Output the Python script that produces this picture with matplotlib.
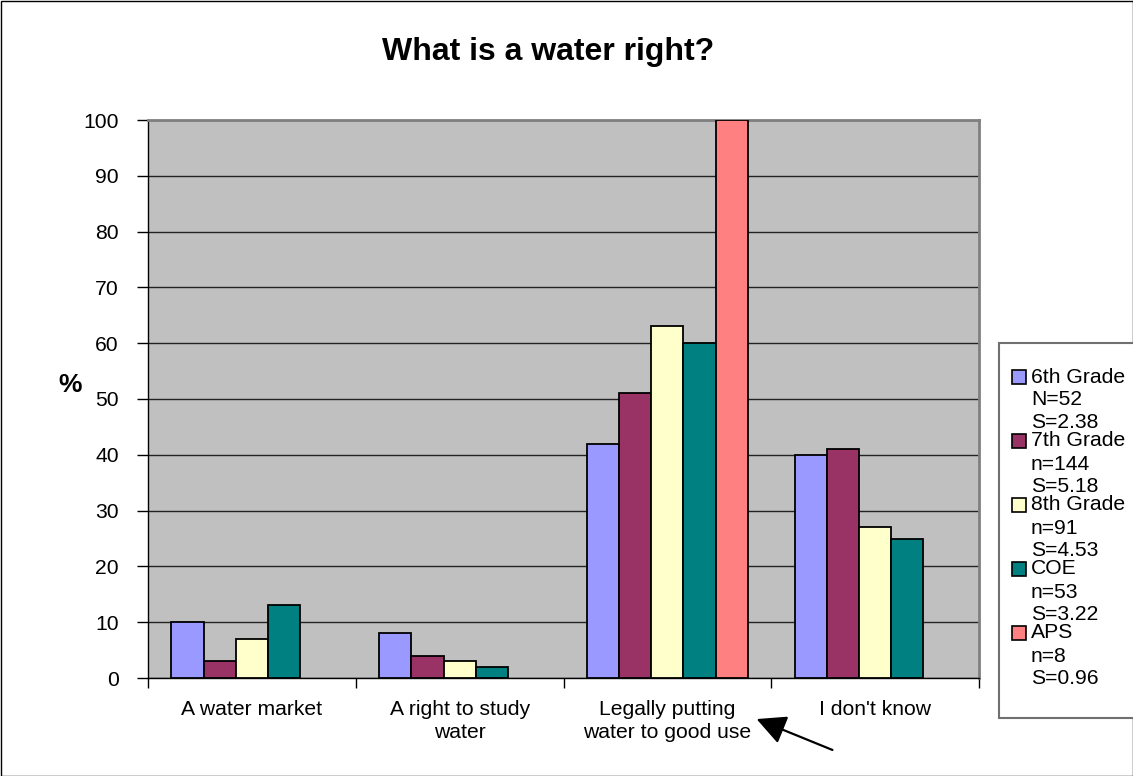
import matplotlib
matplotlib.use("Agg")
import matplotlib.pyplot as plt
from matplotlib.patches import Rectangle, FancyArrowPatch
import numpy as np

plt.rcParams['font.family'] = ['Liberation Sans', 'DejaVu Sans']

categories = ["A water market", "A right to study\nwater", "Legally putting\nwater to good use", "I don't know"]
series_names = ["6th Grade", "7th Grade", "8th Grade", "COE", "APS"]
series_sub = [["N=52", "S=2.38"], ["n=144", "S=5.18"], ["n=91", "S=4.53"], ["n=53", "S=3.22"], ["n=8", "S=0.96"]]
grade6 = [10, 8, 42, 40]
grade7 = [3, 4, 51, 41]
grade8 = [7, 3, 63, 27]
coe = [13, 2, 60, 25]
aps = [np.nan, np.nan, 100, np.nan]
colors = ["#9999FF", "#993366", "#FFFFCC", "#008080", "#FF8080"]
yticks = list(range(0, 101, 10))

W, H = 1133, 776
fig = plt.figure(figsize=(W / 100, H / 100), dpi=100)

def fx(px):
    return px / W

def fy(py):
    return 1 - py / H

FS = 15.2

ax = fig.add_axes([fx(148), fy(678), fx(979) - fx(148), fy(120) - fy(678)])
ax.set_facecolor("#C0C0C0")

x = np.arange(len(categories))
bw = 0.155
all_series = [grade6, grade7, grade8, coe, aps]
for i, vals in enumerate(all_series):
    offs = (i - 2) * bw
    v = np.array(vals, dtype=float)
    mask = ~np.isnan(v)
    ax.bar(x[mask] + offs, v[mask], width=bw, color=colors[i], edgecolor="black",
           linewidth=1.3, zorder=3)

ax.set_xlim(-0.5, 3.5)
ax.set_ylim(0, 100)
ax.set_yticks(yticks)
ax.set_yticklabels([str(t) for t in yticks], fontsize=FS)
ax.yaxis.grid(True, color="#222222", linewidth=1.0, zorder=1)
ax.set_axisbelow(True)

ax.set_xticks(np.arange(-0.5, 4.0, 1.0))
ax.set_xticklabels([])
ax.set_xticks(x, minor=True)
ax.set_xticklabels(categories, minor=True, fontsize=FS, linespacing=1.22)
ax.tick_params(axis="x", which="major", length=7, width=1, direction="out", color="black")
ax.tick_params(axis="x", which="minor", length=0, pad=16)
ax.tick_params(axis="y", length=8, width=1, direction="out", pad=13)

for s in ["top", "right"]:
    ax.spines[s].set_color("#808080")
    ax.spines[s].set_linewidth(2)
for s in ["left", "bottom"]:
    ax.spines[s].set_color("black")
    ax.spines[s].set_linewidth(1)

fig.text(fx(548), fy(60), "What is a water right?", fontsize=23, fontweight="bold",
         ha="center", va="baseline")
fig.text(fx(70), fy(385), "%", fontsize=19, fontweight="bold", ha="center", va="center")

# legend box
fig.patches.append(Rectangle((fx(999), fy(718)), fx(1145) - fx(999), fy(343) - fy(718),
                             transform=fig.transFigure, facecolor="white",
                             edgecolor="#707070", linewidth=1.5, zorder=1))
for k, name in enumerate(series_names):
    y0 = 377 + 64 * k
    fig.patches.append(Rectangle((fx(1012), fy(y0 + 7)), fx(14), 14 / H,
                                 transform=fig.transFigure, facecolor=colors[k],
                                 edgecolor="black", linewidth=1.2, zorder=2))
    fig.text(fx(1031), fy(y0), name, fontsize=FS, ha="left", va="center", zorder=3)
    for j, sub in enumerate(series_sub[k]):
        fig.text(fx(1031), fy(y0 + 23 * (j + 1)), sub, fontsize=FS, ha="left",
                 va="center", zorder=3)

# arrow annotation
arr = FancyArrowPatch((fx(835), fy(751)), (fx(754), fy(718)), transform=fig.transFigure,
                      arrowstyle="-|>,head_length=12,head_width=6", color="black",
                      linewidth=1.6, mutation_scale=1.5)
fig.patches.append(arr)

# outer chart border
fig.patches.append(Rectangle((0.5 / W, 0.5 / H), 1 - 1.0 / W, 1 - 1.0 / H,
                             transform=fig.transFigure, fill=False,
                             edgecolor="black", linewidth=1.0, zorder=0))

fig.savefig("out.png", dpi=100)
